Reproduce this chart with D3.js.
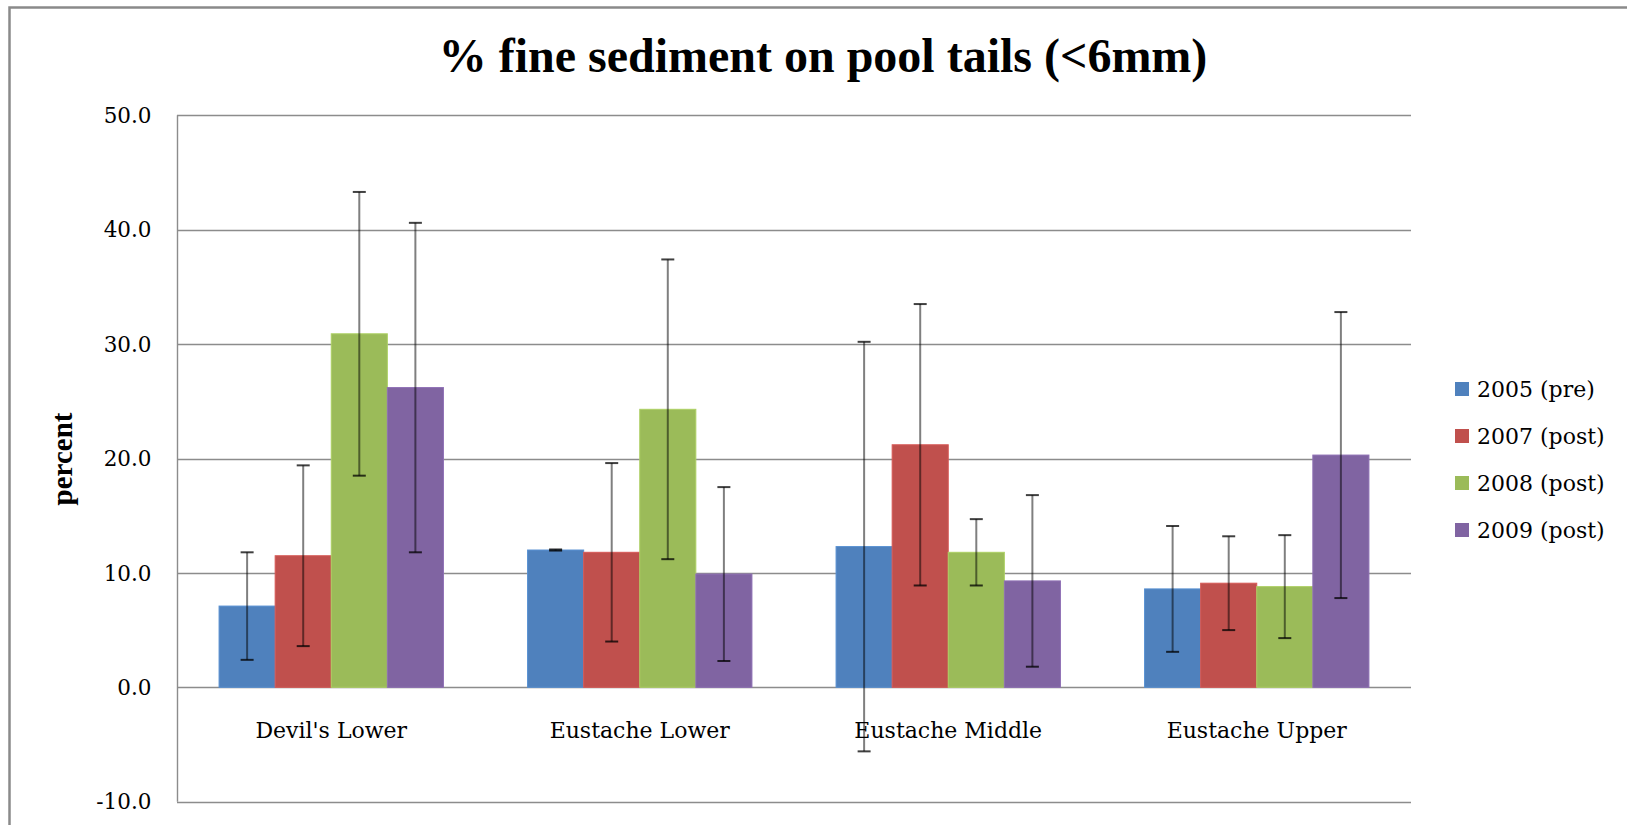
<!DOCTYPE html>
<html>
<head>
<meta charset="utf-8">
<script src="https://cdn.jsdelivr.net/npm/d3@7"></script>
<style>
  html, body { margin: 0; padding: 0; background: #fff; }
  svg { display: block; }
</style>
</head>
<body>
<svg id="chart" width="1627" height="825"></svg>
<script>
// ---- data ----
const categories = ["Devil's Lower", "Eustache Lower", "Eustache Middle", "Eustache Upper"];
const seriesLabels = ["2005 (pre)", "2007 (post)", "2008 (post)", "2009 (post)"];
const values2005 = [7.1, 12.0, 12.3, 8.6];
const values2007 = [11.5, 11.8, 21.2, 9.1];
const values2008 = [30.9, 24.3, 11.8, 8.8];
const values2009 = [26.2, 9.9, 9.3, 20.3];
const err2005 = [4.7, 0.05, 17.9, 5.5];
const err2007 = [7.9, 7.8, 12.3, 4.1];
const err2008 = [12.4, 13.1, 2.9, 4.5];
const err2009 = [14.4, 7.6, 7.5, 12.5];
const yTicks = [-10, 0, 10, 20, 30, 40, 50];
const titleText = "% fine sediment on pool tails (<6mm)";
const yAxisLabel = "percent";

const seriesValues = [values2005, values2007, values2008, values2009];
const seriesErrors = [err2005, err2007, err2008, err2009];
const colors = ["#4F81BD", "#C0504D", "#9BBB59", "#8064A2"];

// ---- layout ----
const svg = d3.select("#chart");
const plot = { left: 177, right: 1411, top: 115.3, bottom: 801.7 };

// outer chart frame
svg.append("rect")
  .attr("x", 9.5).attr("y", 7.5)
  .attr("width", 1640).attr("height", 840)
  .attr("fill", "none").attr("stroke", "#8a8a8a").attr("stroke-width", 2.5);

const y = d3.scaleLinear().domain([-10, 50]).range([plot.bottom, plot.top]);
const x0 = d3.scaleBand().domain(categories).range([plot.left, plot.right]).padding(0);
const gapWidth = 1.5;
const barW = x0.bandwidth() / (seriesLabels.length + gapWidth);
const x1 = d3.scaleBand().domain(d3.range(seriesLabels.length))
  .range([0, barW * seriesLabels.length]).padding(0);
const groupOffset = (x0.bandwidth() - barW * seriesLabels.length) / 2;

// gridlines
svg.append("g").selectAll("line").data(yTicks).join("line")
  .attr("x1", plot.left).attr("x2", plot.right)
  .attr("y1", d => Math.round(y(d)) + 0.5).attr("y2", d => Math.round(y(d)) + 0.5)
  .attr("stroke", "#8c8c8c").attr("stroke-width", 1.4);

// y axis line
svg.append("line")
  .attr("x1", plot.left + 0.5).attr("x2", plot.left + 0.5)
  .attr("y1", y(50)).attr("y2", y(-10))
  .attr("stroke", "#8c8c8c").attr("stroke-width", 1.4);

// y tick labels (plain hyphen minus as in the original)
svg.append("g").selectAll("text").data(yTicks).join("text")
  .attr("x", 151.5).attr("y", d => y(d))
  .attr("dy", "0.36em")
  .attr("text-anchor", "end")
  .attr("font-family", "'DejaVu Serif', serif")
  .attr("font-size", 21.5)
  .attr("fill", "#000")
  .text(d => d.toFixed(1));

// bars
const barData = [];
seriesValues.forEach((vals, si) => {
  vals.forEach((v, ci) => {
    barData.push({ si, ci, v, e: seriesErrors[si][ci] });
  });
});

svg.append("g").selectAll("rect").data(barData).join("rect")
  .attr("x", d => x0(categories[d.ci]) + groupOffset + x1(d.si))
  .attr("width", x1.bandwidth())
  .attr("y", d => y(Math.max(0, d.v)))
  .attr("height", d => Math.abs(y(d.v) - y(0)))
  .attr("fill", d => colors[d.si])
  .attr("stroke", d => d3.color(colors[d.si]).brighter(0.3))
  .attr("stroke-width", 1);

// category labels
svg.append("g").selectAll("text").data(categories).join("text")
  .attr("x", d => x0(d) + x0.bandwidth() / 2)
  .attr("y", 737.5)
  .attr("text-anchor", "middle")
  .attr("font-family", "'DejaVu Serif', serif")
  .attr("font-size", 22)
  .attr("fill", "#000")
  .text(d => d);

// error bars
const eg = svg.append("g");
const capHalf = 6.5;
barData.forEach(d => {
  const cx = x0(categories[d.ci]) + groupOffset + x1(d.si) + x1.bandwidth() / 2;
  const yTop = y(d.v + d.e), yBot = y(d.v - d.e);
  eg.append("line")
    .attr("x1", cx).attr("x2", cx).attr("y1", yTop).attr("y2", yBot)
    .attr("stroke", "#000").attr("stroke-opacity", 0.5).attr("stroke-width", 2);
  [yTop, yBot].forEach(yy => {
    eg.append("line")
      .attr("x1", cx - capHalf).attr("x2", cx + capHalf).attr("y1", yy).attr("y2", yy)
      .attr("stroke", "#000").attr("stroke-opacity", 0.75).attr("stroke-width", 2);
  });
});

// title
svg.append("text")
  .attr("x", 823).attr("y", 72)
  .attr("text-anchor", "middle")
  .attr("font-family", "'Liberation Serif', 'Times New Roman', serif")
  .attr("font-weight", "bold")
  .attr("font-size", 48)
  .attr("fill", "#000")
  .text(titleText);

// y axis title
svg.append("text")
  .attr("transform", "translate(72,459) rotate(-90)")
  .attr("text-anchor", "middle")
  .attr("font-family", "'Liberation Serif', 'Times New Roman', serif")
  .attr("font-weight", "bold")
  .attr("font-size", 29)
  .attr("fill", "#000")
  .text(yAxisLabel);

// legend
const legendRows = [389, 436, 483, 530];
const lg = svg.append("g");
seriesLabels.forEach((lab, i) => {
  lg.append("rect")
    .attr("x", 1455).attr("y", legendRows[i] - 7)
    .attr("width", 14).attr("height", 14)
    .attr("fill", colors[i]);
  lg.append("text")
    .attr("x", 1477).attr("y", legendRows[i])
    .attr("dy", "0.36em")
    .attr("font-family", "'DejaVu Serif', serif")
    .attr("font-size", 22)
    .attr("fill", "#000")
    .text(lab);
});
</script>
</body>
</html>
